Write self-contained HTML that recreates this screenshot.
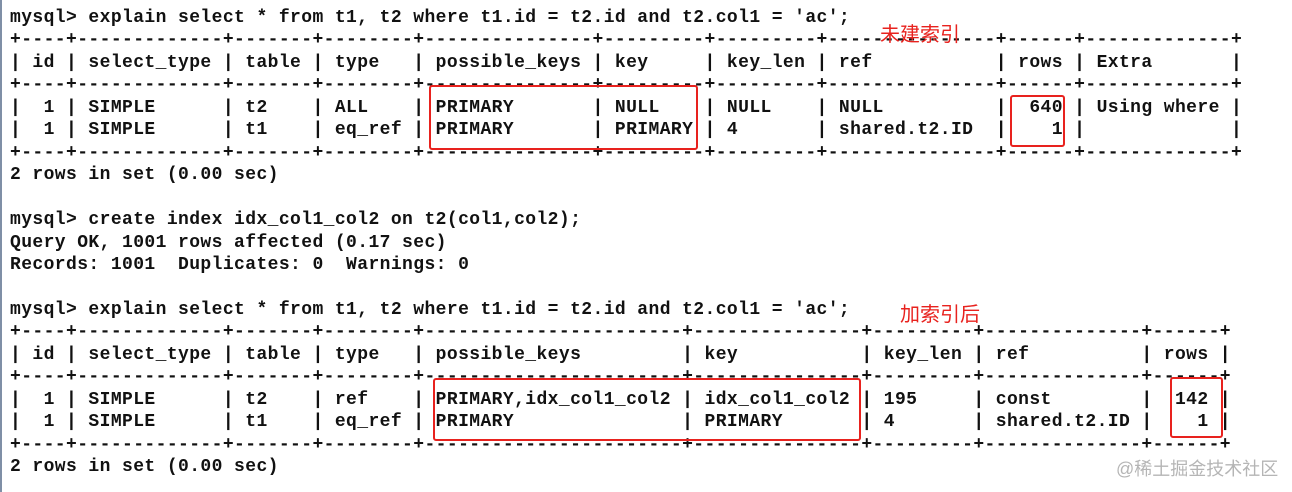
<!DOCTYPE html>
<html><head><meta charset="utf-8">
<style>
html,body{margin:0;padding:0;background:#fff;}
body{width:1292px;height:492px;position:relative;overflow:hidden;}
pre{position:absolute;left:10px;top:7px;margin:0;font-family:"Liberation Mono",monospace;font-weight:bold;font-size:18px;letter-spacing:0.4px;line-height:22.45px;color:#111;white-space:pre;}
.box{position:absolute;border:2px solid #e8221e;border-radius:3px;box-sizing:border-box;}
.lbl{position:absolute;color:#e8221e;font-family:"Liberation Sans","Noto Sans CJK SC",sans-serif;font-size:20px;line-height:22px;}
.wm{position:absolute;left:1116px;top:455px;color:#b5b5b5;font-family:"Liberation Sans","Noto Sans CJK SC",sans-serif;font-size:18px;}
.edge{position:absolute;left:0;top:0;width:2px;height:492px;background:#7f8fa6;}
</style></head><body>
<div class="edge"></div>
<pre>mysql&gt; explain select * from t1, t2 where t1.id = t2.id and t2.col1 = 'ac';
+----+-------------+-------+--------+---------------+---------+---------+---------------+------+-------------+
| id | select_type | table | type   | possible_keys | key     | key_len | ref           | rows | Extra       |
+----+-------------+-------+--------+---------------+---------+---------+---------------+------+-------------+
|  1 | SIMPLE      | t2    | ALL    | PRIMARY       | NULL    | NULL    | NULL          |  640 | Using where |
|  1 | SIMPLE      | t1    | eq_ref | PRIMARY       | PRIMARY | 4       | shared.t2.ID  |    1 |             |
+----+-------------+-------+--------+---------------+---------+---------+---------------+------+-------------+
2 rows in set (0.00 sec)

mysql&gt; create index idx_col1_col2 on t2(col1,col2);
Query OK, 1001 rows affected (0.17 sec)
Records: 1001  Duplicates: 0  Warnings: 0

mysql&gt; explain select * from t1, t2 where t1.id = t2.id and t2.col1 = 'ac';
+----+-------------+-------+--------+-----------------------+---------------+---------+--------------+------+
| id | select_type | table | type   | possible_keys         | key           | key_len | ref          | rows |
+----+-------------+-------+--------+-----------------------+---------------+---------+--------------+------+
|  1 | SIMPLE      | t2    | ref    | PRIMARY,idx_col1_col2 | idx_col1_col2 | 195     | const        |  142 |
|  1 | SIMPLE      | t1    | eq_ref | PRIMARY               | PRIMARY       | 4       | shared.t2.ID |    1 |
+----+-------------+-------+--------+-----------------------+---------------+---------+--------------+------+
2 rows in set (0.00 sec)</pre>
<div class="box" style="left:429px;top:85px;width:269px;height:65px;"></div>
<div class="box" style="left:1010px;top:95px;width:55px;height:52px;"></div>
<div class="box" style="left:433px;top:378px;width:428px;height:63px;"></div>
<div class="box" style="left:1170px;top:377px;width:53px;height:61px;"></div>
<div class="lbl" style="left:880px;top:24px;">未建索引</div>
<div class="lbl" style="left:900px;top:304px;">加索引后</div>
<div class="wm">@稀土掘金技术社区</div>
</body></html>
